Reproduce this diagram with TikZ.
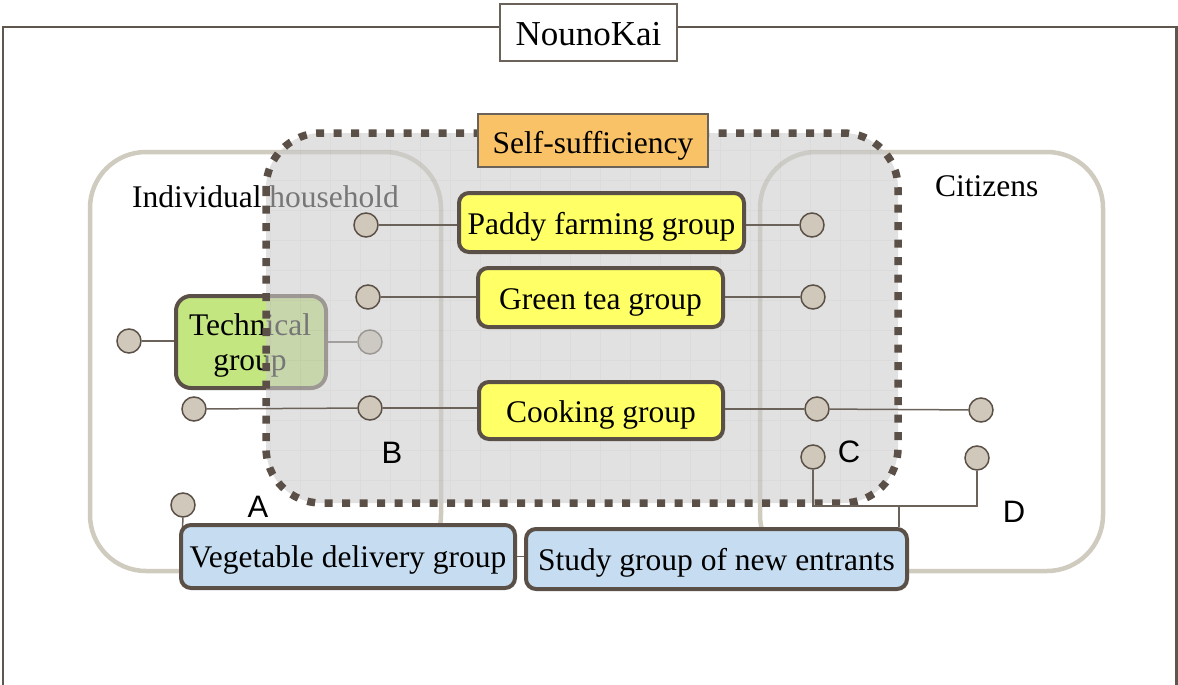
\documentclass[tikz,border=0pt]{standalone}
\usepackage{fontspec}
\setmainfont{Liberation Serif}
\newfontfamily\lettersf{Liberation Sans}
\definecolor{framec}{HTML}{5F564E}
\definecolor{boxborder}{HTML}{5B5047}
\definecolor{beige}{HTML}{D0CBBF}
\definecolor{circfill}{HTML}{D0C9BB}
\definecolor{yel}{HTML}{FFFF66}
\definecolor{grn}{HTML}{C3E681}
\definecolor{blu}{HTML}{C6DDF1}
\definecolor{org}{HTML}{F9C266}
\definecolor{linec}{HTML}{6B625A}
\definecolor{greyfill}{HTML}{CCCCCC}
\tikzset{
  txt/.style={font=\fontsize{31.5}{35}\selectfont},
  grpbox/.style={draw=boxborder, line width=4pt, rounded corners=10pt, inner sep=0pt, txt, text height=24pt, text depth=0pt},
  yelbox/.style={grpbox, fill=yel},
  blubox/.style={grpbox, fill=blu, text height=22pt},
  labbox/.style={draw=linec, line width=1.8pt, inner sep=0pt, txt, text height=25pt, text depth=0pt},
  dot/.style={circle, draw=boxborder, line width=1.5pt, fill=circfill, minimum size=24pt, inner sep=0pt},
  conn/.style={draw=linec, line width=1.5pt},
  beigebox/.style={draw=beige, line width=4.5pt, rounded corners=56pt},
  letter/.style={font=\lettersf\fontsize{31}{35}\selectfont, inner sep=0pt},
}
\begin{document}
\begin{tikzpicture}[x=1pt, y=-1pt]
\useasboundingbox (0,0) rectangle (1178,685);
% outer frame
\draw[draw=framec, line width=2.5pt] (3,685) -- (3,27) -- (1176.5,27) -- (1176.5,685);
\node[labbox, fill=white, minimum width=177pt, minimum height=57pt, font=\fontsize{35}{38}\selectfont, text height=27pt] (nk) at (588.5,32.5) {NounoKai};
% beige areas
\draw[beigebox] (90,152) rectangle (441,571);
\draw[beigebox] (760,152) rectangle (1103,571);
\node[txt, anchor=base, inner sep=0pt] (ih) at (265.5,207) {Individual household};
\node[txt, anchor=base west, inner sep=0pt] (cit) at (935,196) {Citizens};
% technical group (partly under overlay)
\node[draw=boxborder, line width=4pt, rounded corners=15pt, inner sep=0pt, fill=grn, minimum width=150pt, minimum height=92pt] (tech) at (251,342) {};
\node[txt, align=center, inner sep=0pt, anchor=base] (techtxt) at (250,370) {Technical\\group};
\node[dot] (tl) at (129,341) {};
\node[dot] (tr) at (370,342) {};
\draw[conn] (tl) -- (tl -| tech.west);
\draw[conn] (tech.east |- tr) -- (tr);
% self-sufficiency region
\fill[greyfill, opacity=0.585, rounded corners=55pt] (266,133) rectangle (898,503);
\begin{scope}
  \clip[rounded corners=55pt] (266,133) rectangle (898,503);
  \draw[black, opacity=0.025, line width=1pt, step=30pt] (266,133) grid (898,503);
\end{scope}
\draw[draw=boxborder, line width=7.5pt, dash pattern=on 8pt off 9.5pt, rounded corners=55pt] (266,133) rectangle (898,503);
\node[labbox, fill=org, minimum width=230pt, minimum height=53pt] (ss) at (593,140.5) {Self-sufficiency};
% yellow groups
\node[yelbox, minimum width=285pt, minimum height=59pt] (paddy) at (601.5,222.5) {Paddy farming group};
\node[yelbox, minimum width=245pt, minimum height=59pt] (tea) at (600.5,297.5) {Green tea group};
\node[yelbox, minimum width=244pt, minimum height=57pt] (cook) at (601,410.5) {Cooking group};
\node[dot] (pl) at (366,225) {};
\node[dot] (pr) at (812,225) {};
\node[dot] (gl) at (368,297) {};
\node[dot] (gr) at (813,297) {};
\node[dot] (cl) at (370,408) {};
\node[dot] (cr) at (817,409) {};
\node[dot] (fl) at (194,409) {};
\node[dot] (fr) at (981,410) {};
\node[dot] (cc) at (813,457) {};
\node[dot] (dc) at (977,458) {};
\node[dot] (ac) at (183,505) {};
\draw[conn] (pl) -- (pl -| paddy.west);
\draw[conn] (paddy.east |- pr) -- (pr);
\draw[conn] (gl) -- (gl -| tea.west);
\draw[conn] (tea.east |- gr) -- (gr);
\draw[conn] (fl) -- (cl);
\draw[conn] (cl) -- (cl -| cook.west);
\draw[conn] (cook.east |- cr) -- (cr);
\draw[conn] (cr) -- (fr);
% blue groups
\coordinate (jn) at (899,506);
\draw[conn] (cc) |- (jn) -| (dc);
\draw[conn] (ac.south) -- (181,556);
\node[blubox, minimum width=334pt, minimum height=63pt] (veg) at (348,556.5) {Vegetable delivery group};
\node[blubox, minimum width=381pt, minimum height=60pt] (study) at (716.5,559) {Study group of new entrants};
\draw[conn] (jn) -- (jn |- study.north);
\draw[conn] (veg.east) -- (veg.east -| study.west);
% letters
\node[letter] (la) at (258,507) {A};
\node[letter] (lb) at (392,453) {B};
\node[letter] (lc) at (849,452) {C};
\node[letter] (ld) at (1014,512) {D};
\end{tikzpicture}
\end{document}
